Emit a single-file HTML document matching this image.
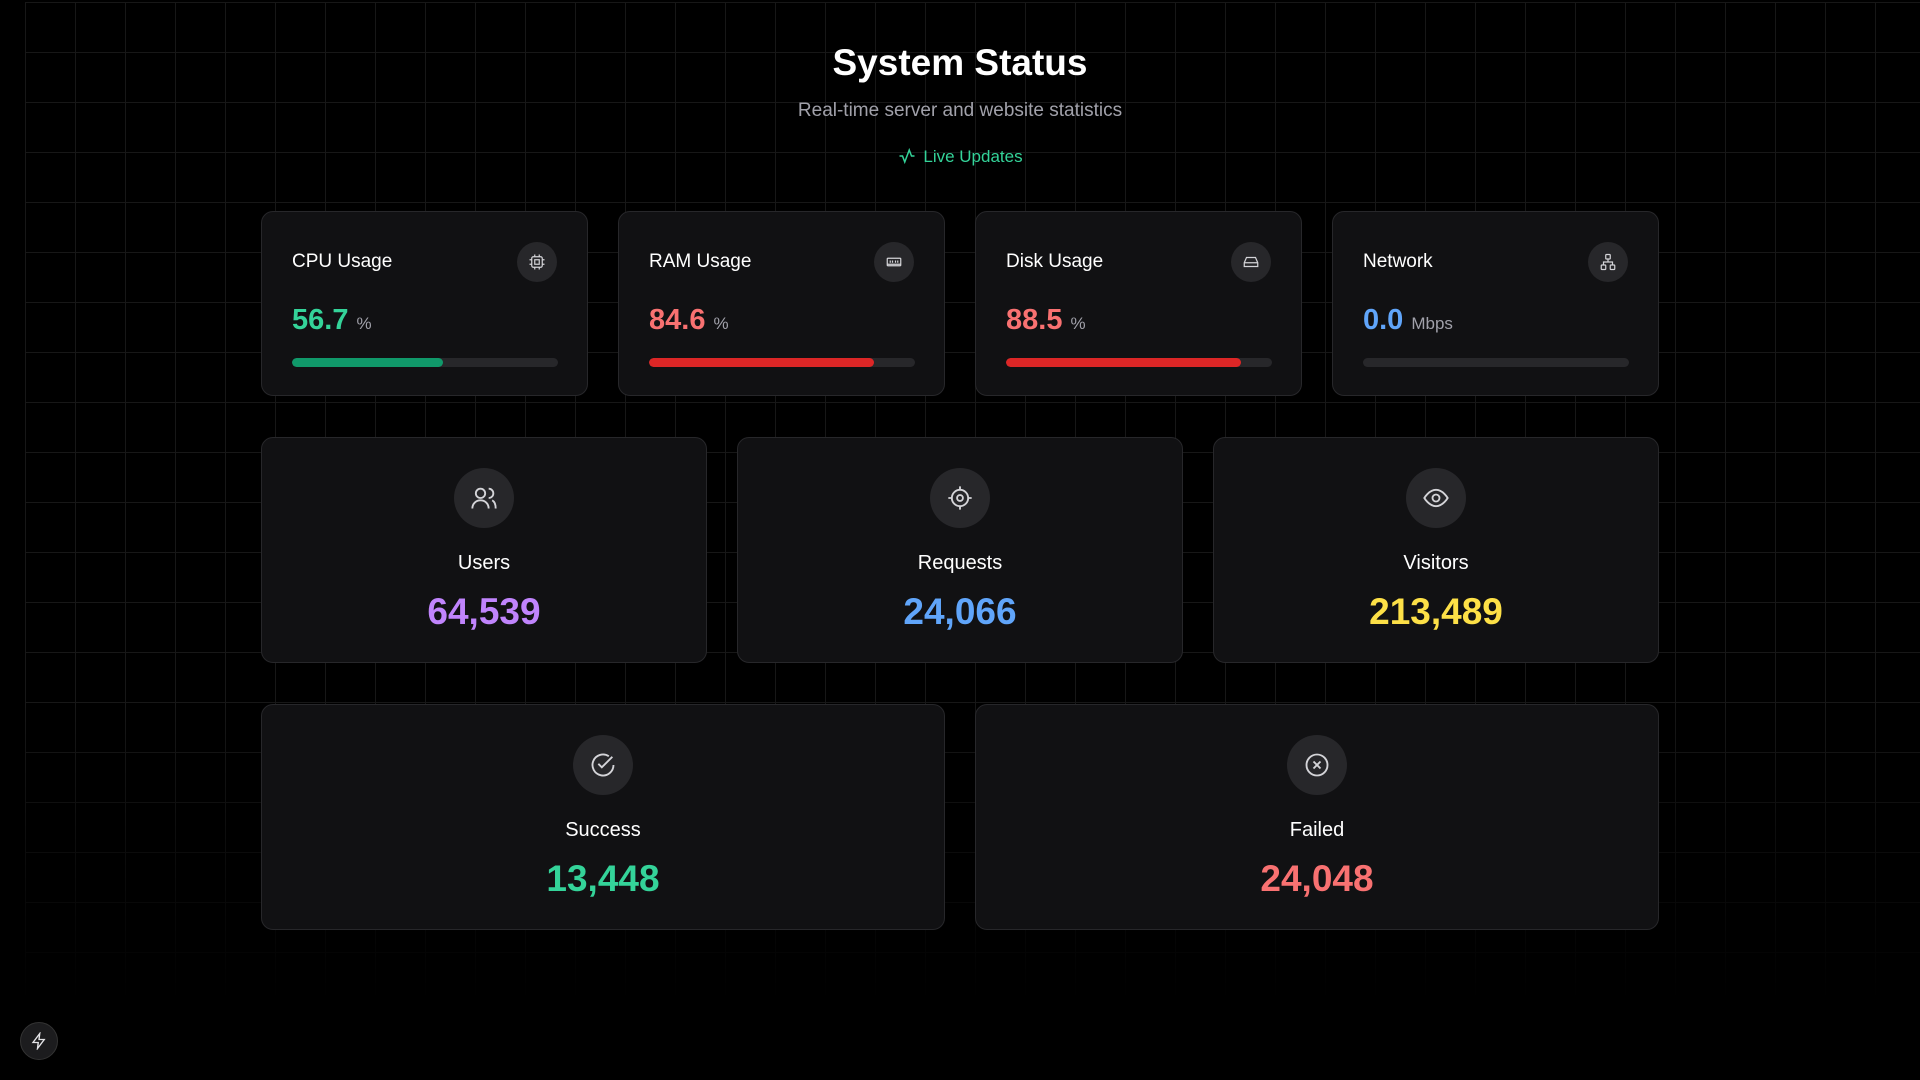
<!DOCTYPE html>
<html><head><meta charset="utf-8"><style>
*{margin:0;padding:0;box-sizing:border-box}
body{width:1920px;height:1080px;background:#000;font-family:"Liberation Sans",sans-serif;color:#fff;position:relative;overflow:hidden}
.grid{position:absolute;left:25px;top:2px;width:1895px;height:1000px;
background-image:linear-gradient(to right,#171717 1px,transparent 1px),linear-gradient(to bottom,#171717 1px,transparent 1px);
background-size:50px 50px;
-webkit-mask-image:linear-gradient(to bottom,#000 70%,transparent 100%);mask-image:linear-gradient(to bottom,#000 70%,transparent 100%)}
.abs{position:absolute}
h1{position:absolute;top:42px;left:0;width:1920px;text-align:center;font-size:37px;font-weight:bold}
.sub{top:100px;left:0;width:1920px;text-align:center;font-size:19px;color:#a1a1aa}
.live{top:147px;left:0;width:1920px;text-align:center;font-size:17px;color:#34d399}
.card{position:absolute;background:#111113;border:1px solid #27272a;border-radius:12px}
.t{position:absolute;left:30px;top:39px;font-size:19px}
.ic{position:absolute;width:40px;height:40px;border-radius:50%;background:#27272a;display:flex;align-items:center;justify-content:center}
.v{position:absolute;left:30px;top:92px;font-size:29px;font-weight:bold}
.v span{font-size:17px;font-weight:normal;color:#a1a1aa;margin-left:8px}
.bar{position:absolute;left:30px;top:146px;width:266px;height:9px;border-radius:5px;background:#27272a;overflow:hidden}
.bar i{display:block;height:100%;border-radius:5px}
.big{text-align:center}
.big .ic2{position:absolute;left:50%;margin-left:-30px;top:30px;width:60px;height:60px;border-radius:50%;background:#27272a;display:flex;align-items:center;justify-content:center}
.big .l{position:absolute;left:0;right:0;top:114px;font-size:20px}
.big .n{position:absolute;left:0;right:0;top:153px;font-size:37px;font-weight:bold}
</style></head><body>
<div class="grid"></div>
<h1>System Status</h1>
<div class="abs sub">Real-time server and website statistics</div>
<div class="abs live"><svg width="20" height="18" viewBox="0 0 24 24" fill="none" stroke="#34d399" stroke-width="2" style="vertical-align:-3px;margin-right:6px"><path d="M2 12h4l3 8 6-16 3 8h4"/></svg>Live Updates</div>

<div class="card" style="left:261px;top:211px;width:327px;height:185px">
<div class="t">CPU Usage</div><div class="ic" style="left:255px;top:30px"><svg width="18" height="18" viewBox="0 0 24 24" fill="none" stroke="#d4d4d8" stroke-width="1.6"><rect x="5" y="5" width="14" height="14" rx="2"/><rect x="9" y="9" width="6" height="6"/><path d="M9 2v3M15 2v3M9 19v3M15 19v3M2 9h3M2 15h3M19 9h3M19 15h3"/></svg></div>
<div class="v" style="color:#34d399">56.7<span>%</span></div>
<div class="bar"><i style="width:56.7%;background:#10996a"></i></div></div>

<div class="card" style="left:618px;top:211px;width:327px;height:185px">
<div class="t">RAM Usage</div><div class="ic" style="left:255px;top:30px"><svg width="18" height="18" viewBox="0 0 24 24" fill="none" stroke="#d4d4d8" stroke-width="1.6"><rect x="3" y="7" width="18" height="10" rx="1"/><path d="M7 10v3M10 10v3M14 10v3M17 10v3M3 15h18"/></svg></div>
<div class="v" style="color:#f87171">84.6<span>%</span></div>
<div class="bar"><i style="width:84.6%;background:#dc2626"></i></div></div>

<div class="card" style="left:975px;top:211px;width:327px;height:185px">
<div class="t">Disk Usage</div><div class="ic" style="left:255px;top:30px"><svg width="18" height="18" viewBox="0 0 24 24" fill="none" stroke="#d4d4d8" stroke-width="1.6"><path d="M3 13l3-7h12l3 7v5H3z"/><path d="M3 13h18M7 16h.01M11 16h.01"/></svg></div>
<div class="v" style="color:#f87171">88.5<span>%</span></div>
<div class="bar"><i style="width:88.5%;background:#dc2626"></i></div></div>

<div class="card" style="left:1332px;top:211px;width:327px;height:185px">
<div class="t">Network</div><div class="ic" style="left:255px;top:30px"><svg width="18" height="18" viewBox="0 0 24 24" fill="none" stroke="#d4d4d8" stroke-width="1.6"><rect x="9" y="2" width="6" height="6" rx="1"/><rect x="3" y="16" width="6" height="6" rx="1"/><rect x="15" y="16" width="6" height="6" rx="1"/><path d="M12 8v4M6 16v-4h12v4"/></svg></div>
<div class="v" style="color:#60a5fa">0.0<span>Mbps</span></div>
<div class="bar"><i style="width:0"></i></div></div>

<div class="card big" style="left:261px;top:437px;width:446px;height:226px">
<div class="ic2"><svg width="28" height="28" viewBox="0 0 24 24" fill="none" stroke="#d4d4d8" stroke-width="1.6"><circle cx="9" cy="8" r="4"/><path d="M2 21c0-4 3-7 7-7s7 3 7 7M16 4a4 4 0 0 1 0 8M19 14c2 1 3 4 3 7"/></svg></div>
<div class="l">Users</div><div class="n" style="color:#c084fc">64,539</div></div>

<div class="card big" style="left:737px;top:437px;width:446px;height:226px">
<div class="ic2"><svg width="28" height="28" viewBox="0 0 24 24" fill="none" stroke="#d4d4d8" stroke-width="1.6"><circle cx="12" cy="12" r="7"/><circle cx="12" cy="12" r="2.5"/><path d="M12 2v3M12 19v3M2 12h3M19 12h3"/></svg></div>
<div class="l">Requests</div><div class="n" style="color:#60a5fa">24,066</div></div>

<div class="card big" style="left:1213px;top:437px;width:446px;height:226px">
<div class="ic2"><svg width="28" height="28" viewBox="0 0 24 24" fill="none" stroke="#d4d4d8" stroke-width="1.6"><path d="M2 12s4-7 10-7 10 7 10 7-4 7-10 7S2 12 2 12z"/><circle cx="12" cy="12" r="3"/></svg></div>
<div class="l">Visitors</div><div class="n" style="color:#fde047">213,489</div></div>

<div class="card big" style="left:261px;top:704px;width:684px;height:226px">
<div class="ic2"><svg width="28" height="28" viewBox="0 0 24 24" fill="none" stroke="#d4d4d8" stroke-width="1.6"><path d="M21 12a9 9 0 1 1-4-7.5"/><path d="M8 11l3 3 9-9"/></svg></div>
<div class="l">Success</div><div class="n" style="color:#34d399">13,448</div></div>

<div class="card big" style="left:975px;top:704px;width:684px;height:226px">
<div class="ic2"><svg width="28" height="28" viewBox="0 0 24 24" fill="none" stroke="#d4d4d8" stroke-width="1.6"><circle cx="12" cy="12" r="9"/><path d="M9 9l6 6M15 9l-6 6"/></svg></div>
<div class="l">Failed</div><div class="n" style="color:#f87171">24,048</div></div>

<div class="abs" style="left:20px;top:1022px;width:38px;height:38px;border-radius:50%;background:#1c1c1e;border:1px solid #333;display:flex;align-items:center;justify-content:center"><svg width="18" height="18" viewBox="0 0 24 24" fill="none" stroke="#e4e4e7" stroke-width="1.8"><path d="M13 2L4 14h7l-1 8 9-12h-7z"/></svg></div>
</body></html>
